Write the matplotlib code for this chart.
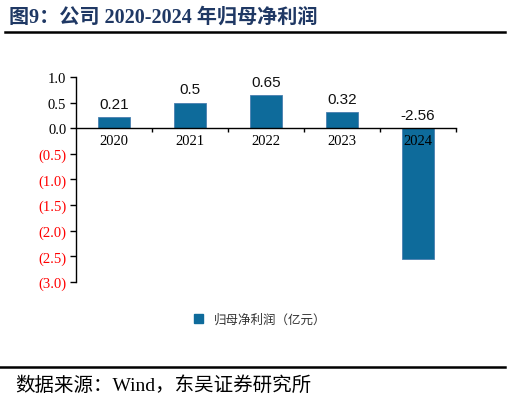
import numpy as np
import matplotlib.pyplot as plt
from matplotlib.lines import Line2D
from matplotlib.patches import Patch

plt.rcParams['font.family'] = ['Liberation Serif', 'Noto Sans CJK SC']

years = ['2020', '2021', '2022', '2023', '2024']
profit = [0.21, 0.5, 0.65, 0.32, -2.56]
profit_labels = ['0.21', '0.5', '0.65', '0.32', '-2.56']
yticks = [1.0, 0.5, 0.0, -0.5, -1.0, -1.5, -2.0, -2.5, -3.0]
bar_color = '#0e6b9b'

fig = plt.figure(figsize=(5.1, 4.02), dpi=100)
ax = fig.add_axes([0.149, 0.296, 0.745, 0.510])

x = np.arange(len(years))
ax.bar(x, profit, width=0.42, color=bar_color, edgecolor='#4a7fb0', linewidth=0.6, zorder=2)

ax.set_xlim(-0.5, len(years) - 0.5)
ax.set_ylim(-3.0, 1.0)

# spines
ax.spines['top'].set_visible(False)
ax.spines['right'].set_visible(False)
ax.spines['bottom'].set_position(('data', 0))
ax.spines['bottom'].set_zorder(3)
for s in ['left', 'bottom']:
    ax.spines[s].set_linewidth(1.0)

# x ticks at category boundaries, labels at centres
ax.set_xticks(np.arange(0.5, len(years), 1.0))
ax.set_xticklabels([])
ax.tick_params(axis='x', direction='out', length=3, width=1.0)
for i, yr in enumerate(years):
    ax.text(i, -0.12, yr, ha='center', va='top', fontsize=10.5,
            family=['Liberation Serif'], zorder=4)

# y ticks
ax.set_yticks(yticks)
ylabels = []
for v in yticks:
    if v < 0:
        ylabels.append('(%.1f)' % abs(v))
    else:
        ylabels.append('%.1f' % v)
ax.set_yticklabels(ylabels, fontsize=10.5)
for lab, v in zip(ax.get_yticklabels(), yticks):
    if v < 0:
        lab.set_color('#ff0000')
ax.tick_params(axis='y', direction='out', length=4, width=1.0, pad=3)

# data labels
for i, (v, t) in enumerate(zip(profit, profit_labels)):
    ypos = max(v, 0) + 0.12
    ax.text(i, ypos, t, ha='center', va='bottom', fontsize=11,
            family=['Liberation Sans'], color='#111111')

# legend
handle = Patch(facecolor=bar_color, edgecolor=bar_color)
fig.legend([handle], ['归母净利润（亿元）'], loc='center', bbox_to_anchor=(0.51, 0.203),
           frameon=False, handlelength=0.7, handleheight=0.7, handletextpad=0.9,
           prop={'family': 'Noto Sans CJK SC', 'size': 9}, labelcolor='#333333')

# title and rules
fig.text(0.018, 0.957, '图9：公司 2020-2024 年归母净利润', ha='left', va='center',
         fontsize=14.5, fontweight='bold', color='#1f3864',
         family=['Liberation Serif', 'Noto Sans CJK SC'])
fig.add_artist(Line2D([0.01, 0.99], [0.918, 0.918], color='black', linewidth=1.8))
fig.add_artist(Line2D([0.0, 0.99], [0.085, 0.085], color='black', linewidth=1.8))
fig.text(0.03, 0.042, '数据来源：Wind，东吴证券研究所', ha='left', va='center',
         fontsize=14, color='black', family=['Liberation Serif', 'Noto Sans CJK SC'])

fig.savefig('out.png', dpi=100)
